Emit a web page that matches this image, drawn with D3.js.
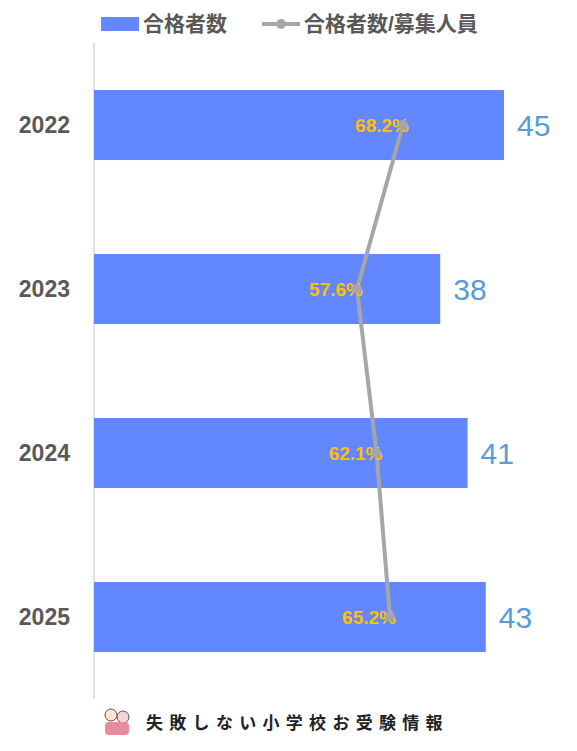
<!DOCTYPE html><html><head><meta charset="utf-8"><script src="https://cdn.jsdelivr.net/npm/d3@7"></script>
<style>body{margin:0;background:#fff}text{font-family:"Liberation Sans","Noto Sans CJK JP",sans-serif}</style></head><body><svg width="577" height="751"></svg>
<script>
const years=["2022","2023","2024","2025"];
const passers=[45,38,41,43];
const ratios=[68.2,57.6,62.1,65.2];
const svg=d3.select("svg");
const x=d3.scaleLinear().domain([0,45]).range([94,504]);
const x2=d3.scaleLinear().domain([0,100]).range([107,541]);
const y=d3.scaleBand().domain(years).range([43,699]).paddingInner(0.573).paddingOuter(0.2865);
svg.append("line").attr("x1",94).attr("x2",94).attr("y1",43).attr("y2",699).attr("stroke","#d9d9d9").attr("stroke-width",1.5);
svg.selectAll(".bar").data(years).join("rect").attr("x",x(0)).attr("y",d=>y(d)).attr("height",y.bandwidth()).attr("width",(d,i)=>x(passers[i])-x(0)).attr("fill","#6387fe");
svg.selectAll(".yl").data(years).join("text").attr("x",70).attr("y",d=>y(d)+y.bandwidth()/2+8).attr("text-anchor","end").attr("font-size",23).attr("font-weight","bold").attr("fill","#595959").text(d=>d);
svg.selectAll(".vl").data(years).join("text").attr("x",(d,i)=>x(passers[i])+13).attr("y",d=>y(d)+y.bandwidth()/2+11).attr("font-size",30).attr("fill","#5b9bd5").text((d,i)=>passers[i]);
const line=d3.line().x((d,i)=>x2(d)).y((d,i)=>y(years[i])+y.bandwidth()/2);
svg.append("path").attr("d",line(ratios)).attr("fill","none").attr("stroke","#a6a6a6").attr("stroke-width",4);
svg.selectAll(".pl").data(ratios).join("text").attr("x",d=>x2(d)+6).attr("y",(d,i)=>y(years[i])+y.bandwidth()/2+7).attr("text-anchor","end").attr("font-size",19).attr("font-weight","bold").attr("fill","#ffc000").text(d=>d.toFixed(1)+"%");
svg.selectAll(".pt").data(ratios).join("circle").attr("cx",d=>x2(d)).attr("cy",(d,i)=>y(years[i])+y.bandwidth()/2).attr("r",5).attr("fill","#a6a6a6");
// legend
svg.append("rect").attr("x",101).attr("y",17).attr("width",38).attr("height",14).attr("fill","#6387fe");
svg.append("text").attr("x",143).attr("y",31).attr("font-size",21).attr("font-weight","bold").attr("fill","#595959").text("合格者数");
svg.append("line").attr("x1",262).attr("x2",300).attr("y1",24).attr("y2",24).attr("stroke","#a6a6a6").attr("stroke-width",4);
svg.append("circle").attr("cx",281).attr("cy",24).attr("r",5).attr("fill","#a6a6a6");
svg.append("text").attr("x",304).attr("y",31).attr("font-size",21).attr("font-weight","bold").attr("fill","#595959").text("合格者数/募集人員");
// footer
const g=svg.append("g").attr("transform","translate(104,708)");
g.append("circle").attr("cx",7).attr("cy",7).attr("r",6).attr("fill","#fde3d0").attr("stroke","#555");
g.append("circle").attr("cx",19).attr("cy",9).attr("r",6).attr("fill","#f9d1d8").attr("stroke","#555");
g.append("rect").attr("x",1).attr("y",14).attr("width",24).attr("height",13).attr("rx",4).attr("fill","#e88c9c");
svg.append("text").attr("x",146).attr("y",729).attr("font-size",17).attr("font-weight","bold").attr("letter-spacing",6.3).attr("fill","#222").text("失敗しない小学校お受験情報");
</script></body></html>
